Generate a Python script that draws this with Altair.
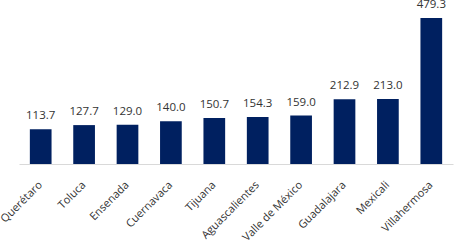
import altair as alt
import pandas as pd

cities = ["Querétaro", "Toluca", "Ensenada", "Cuernavaca", "Tijuana",
          "Aguascalientes", "Valle de México", "Guadalajara", "Mexicali", "Villahermosa"]
values = [113.7, 127.7, 129.0, 140.0, 150.7, 154.3, 159.0, 212.9, 213.0, 479.3]

df = pd.DataFrame({"city": cities, "value": values})
df["label"] = [f"{v:.1f}" for v in values]

x = alt.X("city:N", sort=cities, title=None,
          scale=alt.Scale(paddingInner=0.5, paddingOuter=0.25),
          axis=alt.Axis(labelAngle=-45, labelAlign="right", labelBaseline="middle",
                        labelPadding=19, ticks=False, domainColor="#d9d9d9",
                        labelColor="#333333", labelFont="Open Sans", labelFontSize=11))
y = alt.Y("value:Q", title=None, axis=None,
          scale=alt.Scale(domain=[0, 479.3], nice=False))

bars = alt.Chart(df).mark_bar(color="#002060").encode(x=x, y=y)
text = alt.Chart(df).mark_text(baseline="bottom", dy=-8, font="Open Sans",
                               fontSize=11.5, color="#333333").encode(
    x=alt.X("city:N", sort=cities), y="value:Q", text="label:N")

chart = (bars + text).properties(
    width=434, height=146,
    autosize=alt.AutoSizeParams(type="none"),
    padding={"left": 19, "top": 18, "right": 1, "bottom": 77},
).configure_view(stroke=None)

chart.save("out.html", embed_options={"renderer": "svg", "actions": False})
